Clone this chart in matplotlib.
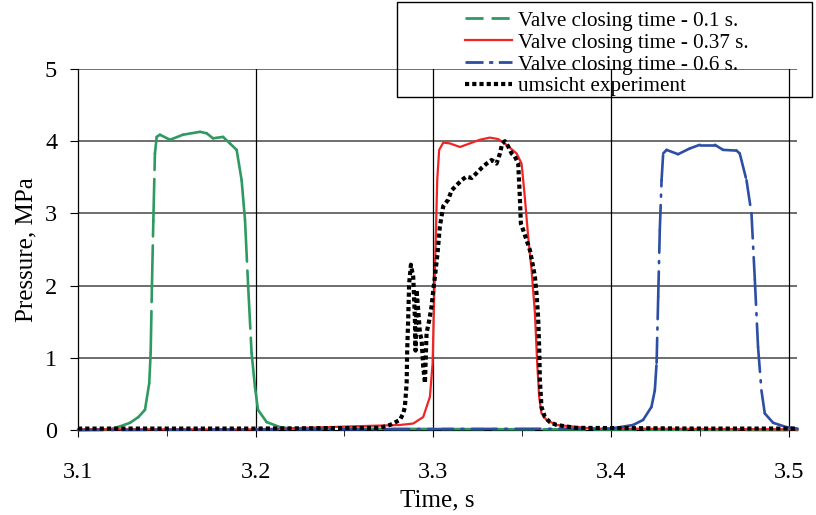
import numpy as np
import matplotlib
matplotlib.use("Agg")
import matplotlib.pyplot as plt
from matplotlib.collections import LineCollection
from matplotlib.lines import Line2D
from matplotlib.patches import Rectangle

plt.rcParams['font.family'] = ['Liberation Serif', 'DejaVu Serif']
plt.rcParams['lines.scale_dashes'] = False

# valve closing time 0.1 s
green_t = [3.100, 3.118, 3.1236, 3.1293, 3.1340, 3.1377, 3.1401, 3.1409, 3.1416, 3.1424,
           3.1433, 3.1443, 3.1461, 3.1518, 3.1591, 3.1687, 3.1724, 3.1760, 3.1816, 3.1855,
           3.1893, 3.1921, 3.1940, 3.1958, 3.1977, 3.1996, 3.2013, 3.2062, 3.2137, 3.2193, 3.505]
green_p = [0.00, 0.01, 0.05, 0.10, 0.18, 0.28, 0.65, 1.07, 1.98, 2.90,
           3.83, 4.06, 4.09, 4.02, 4.09, 4.13, 4.11, 4.04, 4.06, 3.97,
           3.88, 3.46, 2.91, 1.98, 1.07, 0.60, 0.28, 0.11, 0.04, 0.02, 0.00]

# valve closing time 0.37 s
red_t = [3.100, 3.200, 3.2812, 3.2887, 3.2943, 3.2981, 3.2996, 3.3005, 3.3015, 3.3022,
         3.3033, 3.3056, 3.3093, 3.3150, 3.3206, 3.3262, 3.3318, 3.3365, 3.3412, 3.3469,
         3.3497, 3.3515, 3.3534, 3.3553, 3.3572, 3.3585, 3.3596, 3.3609, 3.3637, 3.3694,
         3.3900, 3.505]
red_p = [0.01, 0.01, 0.07, 0.09, 0.18, 0.46, 0.92, 1.85, 2.77, 3.46,
         3.88, 3.98, 3.97, 3.92, 3.97, 4.02, 4.05, 4.03, 3.95, 3.83,
         3.69, 3.23, 2.68, 2.22, 1.62, 0.92, 0.46, 0.23, 0.14, 0.07,
         0.02, 0.01]

# valve closing time 0.6 s
blue_t = [3.100, 3.400, 3.4125, 3.4181, 3.4228, 3.4247, 3.4257, 3.4266, 3.4275, 3.4285,
          3.4294, 3.4313, 3.4378, 3.4444, 3.4500, 3.4585, 3.4631, 3.4707, 3.4725, 3.4763,
          3.4791, 3.4810, 3.4828, 3.4847, 3.4866, 3.4913, 3.4988, 3.505]
blue_p = [0.00, 0.02, 0.07, 0.14, 0.32, 0.55, 0.93, 1.85, 2.77, 3.46,
          3.83, 3.88, 3.82, 3.90, 3.95, 3.95, 3.88, 3.87, 3.83, 3.46,
          3.00, 2.08, 1.15, 0.55, 0.23, 0.10, 0.04, 0.02]

# umsicht experiment
exp_t = [3.100, 3.200, 3.2700, 3.2756, 3.2812, 3.2831, 3.2840, 3.2850, 3.2853, 3.2859,
         3.2864, 3.2874, 3.2887, 3.2896, 3.2900, 3.2906, 3.2915, 3.2925, 3.2934, 3.2943,
         3.2953, 3.2962, 3.2977, 3.2990, 3.3000, 3.3009, 3.3024, 3.3037, 3.3056, 3.3084,
         3.3103, 3.3131, 3.3159, 3.3187, 3.3216, 3.3244, 3.3272, 3.3300, 3.3328, 3.3356,
         3.3375, 3.3388, 3.3403, 3.3421, 3.3441, 3.3459, 3.3478, 3.3487, 3.3493, 3.3506,
         3.3525, 3.3544, 3.3562, 3.3572, 3.3581, 3.3590, 3.3596, 3.3600, 3.3609, 3.3628,
         3.3656, 3.3694, 3.3800, 3.4500, 3.505]
exp_p = [0.02, 0.02, 0.03, 0.07, 0.14, 0.23, 0.32, 0.65, 1.10, 1.57,
         2.03, 2.29, 2.12, 1.57, 1.10, 1.94, 1.66, 1.34, 1.25, 0.88,
         0.65, 1.34, 1.52, 1.71, 1.94, 2.12, 2.45, 2.82, 3.10, 3.19,
         3.32, 3.39, 3.46, 3.51, 3.49, 3.56, 3.63, 3.69, 3.74, 3.69,
         3.83, 3.97, 4.00, 3.93, 3.83, 3.79, 3.69, 3.23, 2.86, 2.77,
         2.63, 2.49, 2.26, 2.12, 1.89, 1.57, 1.15, 0.69, 0.32, 0.18,
         0.11, 0.07, 0.03, 0.02, 0.02]

labels = ["Valve closing time - 0.1 s.", "Valve closing time - 0.37 s.",
          "Valve closing time - 0.6 s.", "umsicht experiment"]

c_green = "#2e9a62"
c_red = "#f22525"
c_blue = "#2c4ea3"


def excel_line(ax, t, p, color, lw, dash):
    # dash pattern restarts on every segment, like the spreadsheet export
    pts = np.column_stack([t, p])
    segs = np.stack([pts[:-1], pts[1:]], axis=1)
    lc = LineCollection(segs, colors=color, linewidths=lw, linestyles=[(0, dash)],
                        capstyle='round', clip_on=False, zorder=3)
    ax.add_collection(lc)


fig = plt.figure(figsize=(8.16, 5.15), dpi=100)
ax = fig.add_axes([0.0956, 0.165, 0.8817, 0.701])

excel_line(ax, green_t, green_p, c_green, 1.9, (30, 6.5))
ax.plot(red_t, red_p, color=c_red, lw=1.6, clip_on=False, zorder=3)
excel_line(ax, blue_t, blue_p, c_blue, 1.9, (18, 6, 1.5, 6))
ax.plot(exp_t, exp_p, color='black', lw=3, dashes=(3, 2.2), dash_capstyle='butt',
        clip_on=False, zorder=4)

ax.set_xlim(3.1, 3.505)
ax.set_ylim(0, 5)
ax.set_xticks([3.1, 3.2, 3.3, 3.4, 3.5])
ax.set_xticks([3.15, 3.25, 3.35, 3.45], minor=True)
ax.set_yticks([0, 1, 2, 3, 4, 5])
ax.tick_params(axis='both', which='both', direction='out', labelsize=17.5, color='black')
ax.tick_params(axis='x', which='major', length=5, pad=18)
ax.tick_params(axis='x', which='minor', length=4)
ax.tick_params(axis='y', length=6, pad=9)

for yv in [1, 2, 3, 4, 5]:
    ax.axhline(yv, color='#6e6e6e', lw=1.4, zorder=1)
for xv in [3.2, 3.3, 3.4, 3.5]:
    ax.axvline(xv, color='black', lw=0.9, zorder=1)

ax.spines['top'].set_visible(False)
ax.spines['right'].set_visible(False)
ax.spines['left'].set_linewidth(0.9)
ax.spines['bottom'].set_linewidth(0.9)

ax.set_xlabel("Time, s", fontsize=18, labelpad=5)
ax.set_ylabel("Pressure, MPa", fontsize=18, labelpad=5.5)

# legend box
fig.patches.append(Rectangle((397 / 816, 1 - 97 / 515), 415 / 816, 95 / 515,
                             transform=fig.transFigure, fill=False, lw=1,
                             edgecolor='black', zorder=5))
handles = [Line2D([], [], color=c_green, lw=2, dashes=(13, 5.8)),
           Line2D([], [], color=c_red, lw=1.6),
           Line2D([], [], color=c_blue, lw=2, dashes=(13, 4, 3, 4)),
           Line2D([], [], color='black', lw=3, dashes=(3, 2.2))]
fig.legend(handles, labels, loc='upper left', bbox_to_anchor=(465 / 816, 1 - 11 / 515),
           frameon=False, fontsize=15.2, handlelength=2.23, handletextpad=0.28,
           labelspacing=0.1, borderpad=0, borderaxespad=0)

fig.savefig("out.png", dpi=100)
